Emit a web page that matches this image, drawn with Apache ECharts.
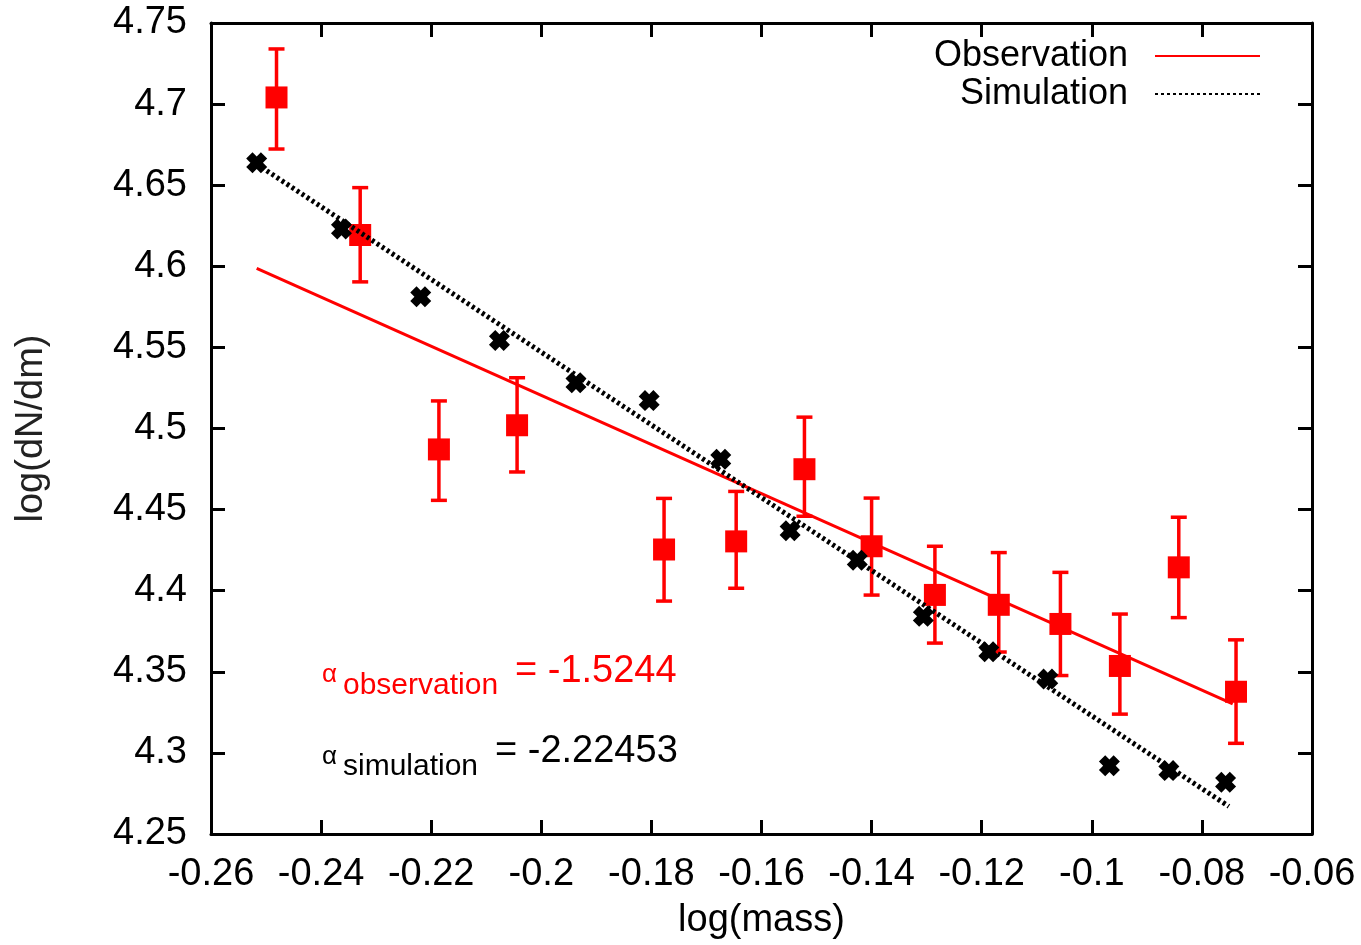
<!DOCTYPE html>
<html>
<head>
<meta charset="utf-8">
<title>log(dN/dm) vs log(mass)</title>
<script src="https://cdn.jsdelivr.net/npm/echarts@6/dist/echarts.min.js"></script>
<style>
  html, body { margin: 0; padding: 0; background: #fff; }
  #chart { width: 1361px; height: 945px; }
</style>
</head>
<body>
<div id="chart"></div>
<script>
// observation points (red squares) with error bar bounds
var obsX = [-0.2481, -0.2329, -0.2186, -0.2044, -0.1777, -0.1646, -0.1522, -0.1400,
            -0.1285, -0.1169, -0.1057, -0.0949, -0.0842, -0.0738];
var obsY = [4.7041, 4.6193, 4.4871, 4.5020, 4.4254, 4.4304, 4.4749, 4.4274,
            4.3974, 4.3913, 4.3795, 4.3536, 4.4144, 4.3377];
var obsLow = [4.6723, 4.5904, 4.4557, 4.4732, 4.3936, 4.4015, 4.4459, 4.3973,
              4.3677, 4.3622, 4.3477, 4.3239, 4.3834, 4.3059];
var obsHigh = [4.7340, 4.6485, 4.5170, 4.5313, 4.4569, 4.4612, 4.5070, 4.4571,
               4.4274, 4.4235, 4.4113, 4.3856, 4.4453, 4.3697];

// simulation points (black crosses)
var simX = [-0.2517, -0.2363, -0.2219, -0.2076, -0.1937, -0.1804, -0.1674, -0.1548,
            -0.1426, -0.1306, -0.1187, -0.1080, -0.0968, -0.0860, -0.0757];
var simY = [4.6638, 4.6230, 4.5812, 4.5543, 4.5282, 4.5172, 4.4810, 4.4370,
            4.4188, 4.3842, 4.3624, 4.3455, 4.2921, 4.2891, 4.2819];

// fitted power-law lines (end points)
var obsFitX = [-0.2517, -0.0744];
var obsFitY = [4.5987, 4.3302];
var simFitX = [-0.2517, -0.0751];
var simFitY = [4.6630, 4.2670];

var xTicks = { min: -0.26, max: -0.06, step: 0.02 };
var yTicks = { min: 4.25, max: 4.75, step: 0.05 };

var FONT = '"Liberation Sans", Arial, sans-serif';
var RED = '#ff0000';

function pairs(xs, ys) {
  return xs.map(function (x, i) { return [x, ys[i]]; });
}

function renderErr(params, api) {
  var x = api.value(0);
  var top = api.coord([x, api.value(2)]);
  var bot = api.coord([x, api.value(1)]);
  var hw = 8;
  var st = { stroke: RED, lineWidth: 3.5 };
  return {
    type: 'group',
    children: [
      { type: 'line', shape: { x1: top[0], y1: top[1], x2: bot[0], y2: bot[1] }, style: st },
      { type: 'line', shape: { x1: top[0] - hw, y1: top[1], x2: top[0] + hw, y2: top[1] }, style: st },
      { type: 'line', shape: { x1: bot[0] - hw, y1: bot[1], x2: bot[0] + hw, y2: bot[1] }, style: st }
    ]
  };
}

// heavy X marker
var crossPath = 'path://M0,3 L3,0 L5,2 L7,0 L10,3 L8,5 L10,7 L7,10 L5,8 L3,10 L0,7 L2,5 Z';

var axisLineStyle = { show: true, lineStyle: { color: '#000', width: 3 } };
var tickStyle = { show: true, inside: true, length: 14, lineStyle: { color: '#000', width: 3 } };

var chart = echarts.init(document.getElementById('chart'));
var option = {
  backgroundColor: '#fff',
  animation: false,
  textStyle: { fontFamily: FONT },
  grid: { left: 211, right: 49, top: 23, bottom: 104 },
  legend: {
    data: ['Observation', 'Simulation'],
    orient: 'vertical',
    right: 95,
    top: 33,
    align: 'right',
    itemWidth: 105,
    itemHeight: 6,
    itemGap: 2,
    itemStyle: { opacity: 0 },
    textStyle: { fontSize: 36, fontFamily: FONT, color: '#000', padding: [0, 22, 0, 0] }
  },
  xAxis: [
    {
      type: 'value',
      min: xTicks.min, max: xTicks.max, interval: xTicks.step,
      name: 'log(mass)',
      nameLocation: 'middle',
      nameGap: 68,
      nameTextStyle: { fontSize: 38, color: '#000', fontFamily: FONT },
      axisLine: axisLineStyle,
      axisTick: tickStyle,
      splitLine: { show: false },
      axisLabel: { fontSize: 38, color: '#000', margin: 22, fontFamily: FONT }
    },
    {
      type: 'value', position: 'top',
      min: xTicks.min, max: xTicks.max, interval: xTicks.step,
      axisLine: axisLineStyle, axisTick: tickStyle,
      splitLine: { show: false }, axisLabel: { show: false }
    }
  ],
  yAxis: [
    {
      type: 'value',
      min: yTicks.min, max: yTicks.max, interval: yTicks.step,
      name: 'log(dN/dm)',
      nameLocation: 'middle',
      nameGap: 160,
      nameRotate: 90,
      nameTextStyle: { fontSize: 38, color: '#222', fontFamily: FONT },
      axisLine: axisLineStyle,
      axisTick: tickStyle,
      splitLine: { show: false },
      axisLabel: { fontSize: 38, color: '#000', margin: 24, fontFamily: FONT }
    },
    {
      type: 'value', position: 'right',
      min: yTicks.min, max: yTicks.max, interval: yTicks.step,
      axisLine: axisLineStyle, axisTick: tickStyle,
      splitLine: { show: false }, axisLabel: { show: false }
    }
  ],
  series: [
    {
      name: 'obsErr',
      type: 'custom',
      renderItem: renderErr,
      encode: { x: 0, y: [1, 2] },
      data: obsX.map(function (x, i) { return [x, obsLow[i], obsHigh[i]]; }),
      z: 2
    },
    {
      name: 'obsPoints',
      type: 'scatter',
      symbol: 'rect',
      symbolSize: 22,
      itemStyle: { color: RED, opacity: 1 },
      data: pairs(obsX, obsY),
      z: 3
    },
    {
      name: 'Observation',
      type: 'line',
      symbol: 'none',
      lineStyle: { color: RED, width: 3 },
      itemStyle: { color: RED },
      data: pairs(obsFitX, obsFitY),
      z: 4
    },
    {
      name: 'simPoints',
      type: 'scatter',
      symbol: crossPath,
      symbolSize: 21,
      itemStyle: { color: '#000', opacity: 1 },
      data: pairs(simX, simY),
      z: 5
    },
    {
      name: 'Simulation',
      type: 'line',
      symbol: 'none',
      lineStyle: { color: '#000', width: 5, type: [3, 3] },
      itemStyle: { color: '#000' },
      data: pairs(simFitX, simFitY),
      z: 6
    }
  ],
  graphic: [
    { type: 'text', left: 322, top: 662, style: { text: 'α', fontSize: 26, fontFamily: FONT, fill: RED } },
    { type: 'text', left: 343, top: 671, style: { text: 'observation', fontSize: 30, fontFamily: FONT, fill: RED } },
    { type: 'text', left: 515, top: 653, style: { text: '= -1.5244', fontSize: 38, fontFamily: FONT, fill: RED } },
    { type: 'text', left: 322, top: 744, style: { text: 'α', fontSize: 26, fontFamily: FONT, fill: '#000' } },
    { type: 'text', left: 343, top: 752, style: { text: 'simulation', fontSize: 30, fontFamily: FONT, fill: '#000' } },
    { type: 'text', left: 495, top: 733, style: { text: '= -2.22453', fontSize: 38, fontFamily: FONT, fill: '#000' } }
  ]
};
chart.setOption(option);
</script>
</body>
</html>
